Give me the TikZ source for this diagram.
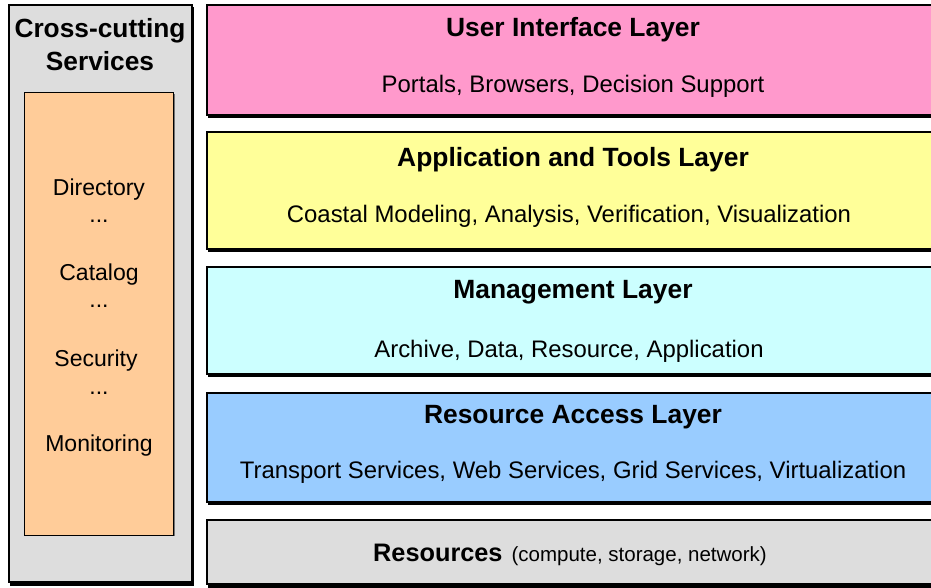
\documentclass[tikz,border=0pt]{standalone}
\usepackage{fontspec}
\setmainfont{Liberation Sans}
\begin{document}
\begin{tikzpicture}[x=1pt,y=-1pt,
  layer/.style={draw=black,line width=2pt},
  shade/.style={fill=black},
  titletext/.style={font=\fontsize{26.4}{30}\selectfont\bfseries,inner sep=0pt,anchor=center},
  subtext/.style={font=\fontsize{23.9}{27}\selectfont,inner sep=0pt,anchor=center},
  itemtext/.style={font=\fontsize{23}{26}\selectfont,inner sep=0pt,anchor=center}]
\definecolor{uipink}{HTML}{FF99CC}
\definecolor{appyellow}{HTML}{FFFF99}
\definecolor{mgmtcyan}{HTML}{CCFFFF}
\definecolor{accblue}{HTML}{99CCFF}
\definecolor{resgray}{HTML}{DDDDDD}
\definecolor{svcorange}{HTML}{FFCC99}
\useasboundingbox (0,0) rectangle (931,588);

% cross-cutting services column
\fill[shade] (9.5,7.5) rectangle (194,586);
\draw[layer,fill=resgray] (8.5,5.5) rectangle (192,582);
\node[titletext,font=\fontsize{26.3}{30}\selectfont\bfseries] (cross) at (100,30.5) {Cross-cutting};
\node[titletext,font=\fontsize{26.3}{30}\selectfont\bfseries] (services) at (100,61) {Services};
\fill[black!55] (25.5,94) rectangle (174.5,536);
\draw[fill=svcorange,line width=0.9pt] (24.5,92.5) rectangle (173.3,535);
\node[itemtext] (dir) at (99,189.5) {Directory};
\node[itemtext] (d1) at (99,221) {...};
\node[itemtext] (cat) at (99,274.5) {Catalog};
\node[itemtext] (d2) at (99,306) {...};
\node[itemtext] (sec) at (96,360.5) {Security};
\node[itemtext] (d3) at (99,393) {...};
\node[itemtext] (mon) at (99,445.5) {Monitoring};

% stacked layers
\fill[shade] (208,8) rectangle (960,118);
\draw[layer,fill=uipink] (207,5.5) rectangle (960,115);
\node[titletext] (ui) at (573,30) {User Interface Layer};
\node[subtext] (uisub) at (573,86.5) {Portals, Browsers, Decision Support};

\fill[shade] (208,135) rectangle (960,252);
\draw[layer,fill=appyellow] (207,132.5) rectangle (960,249);
\node[titletext] (app) at (573,159.5) {Application and Tools Layer};
\node[subtext] (appsub) at (569,216.5) {Coastal Modeling, Analysis, Verification, Visualization};

\fill[shade] (208,269) rectangle (960,377);
\draw[layer,fill=mgmtcyan] (207,266.5) rectangle (960,374);
\node[titletext] (mgmt) at (573,292.5) {Management Layer};
\node[subtext] (mgmtsub) at (569,351.5) {Archive, Data, Resource, Application};

\fill[shade] (208,395) rectangle (960,505);
\draw[layer,fill=accblue] (207,392.5) rectangle (960,502);
\node[titletext] (acc) at (573,417.5) {Resource Access Layer};
\node[subtext] (accsub) at (573,472.5) {Transport Services, Web Services, Grid Services, Virtualization};

\fill[shade] (208,522) rectangle (960,590);
\draw[layer,fill=resgray] (207,519.5) rectangle (960,584);
\node[inner sep=0pt] (res) at (570,554.5) {{\fontsize{25.3}{29}\selectfont\bfseries Resources}\hspace{9pt}{\fontsize{20.5}{23}\selectfont (compute, storage, network)}};
\end{tikzpicture}
\end{document}
